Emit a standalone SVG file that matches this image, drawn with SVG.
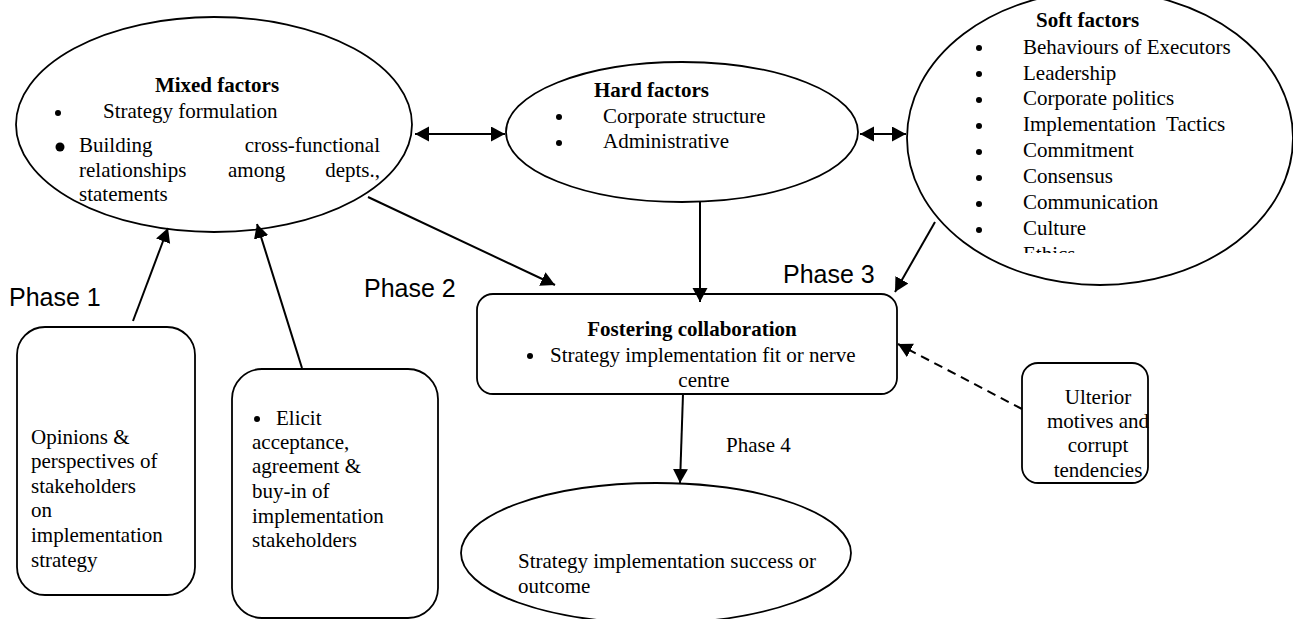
<svg xmlns="http://www.w3.org/2000/svg" width="1293" height="619" viewBox="0 0 1293 619">
<style>
.shape{fill:#fff;stroke:#000;stroke-width:1.8}
.t{font-family:"Liberation Serif","Times New Roman",serif;font-size:21px;fill:#000}
.b{font-weight:bold}
.ph{font-family:"Liberation Sans",Arial,sans-serif;font-size:25px;fill:#000}
.c{stroke:#000;stroke-width:2;fill:none}
.d{stroke-dasharray:9,6}
</style>
<defs>
<marker id="ah" markerUnits="userSpaceOnUse" markerWidth="16" markerHeight="16" refX="14" refY="7.5" orient="auto-start-reverse">
<path d="M0,0 L14,7.5 L0,15 z" fill="#000"/>
</marker>
<clipPath id="softclip"><rect x="900" y="0" width="393" height="253"/></clipPath>
</defs>
<rect width="1293" height="619" fill="#fff"/>

<g id="mixed">
<ellipse class="shape" cx="214" cy="124.5" rx="198" ry="107.5"/>
<text class="t b" x="217" y="92" text-anchor="middle">Mixed factors</text>
<circle cx="58" cy="113" r="3"/>
<text class="t" x="103" y="118">Strategy formulation</text>
<circle cx="60" cy="147" r="4.5"/>
<text class="t" x="79" y="152">Building</text>
<text class="t" x="380" y="152" text-anchor="end">cross-functional</text>
<text class="t" x="79" y="177">relationships</text>
<text class="t" x="228" y="177">among</text>
<text class="t" x="380" y="177" text-anchor="end">depts.,</text>
<text class="t" x="79" y="201">statements</text>
</g>

<g id="hard">
<ellipse class="shape" cx="682" cy="132" rx="176" ry="70"/>
<text class="t b" x="594" y="97">Hard factors</text>
<circle cx="559" cy="117" r="3"/>
<text class="t" x="603" y="123">Corporate structure</text>
<circle cx="559" cy="143" r="3"/>
<text class="t" x="603" y="148">Administrative</text>
</g>

<g id="soft">
<ellipse class="shape" cx="1100" cy="138" rx="193" ry="147"/>
<text class="t b" x="1036" y="27">Soft factors</text>
<g>
<circle cx="979" cy="48" r="3"/><text class="t" x="1023" y="54">Behaviours of Executors</text>
<circle cx="979" cy="74" r="3"/><text class="t" x="1023" y="80">Leadership</text>
<circle cx="979" cy="100" r="3"/><text class="t" x="1023" y="105">Corporate politics</text>
<circle cx="979" cy="126" r="3"/><text class="t" x="1023" y="131" xml:space="preserve">Implementation  Tactics</text>
<circle cx="979" cy="152" r="3"/><text class="t" x="1023" y="157">Commitment</text>
<circle cx="979" cy="178" r="3"/><text class="t" x="1023" y="183">Consensus</text>
<circle cx="979" cy="204" r="3"/><text class="t" x="1023" y="209">Communication</text>
<circle cx="979" cy="230" r="3"/><text class="t" x="1023" y="235">Culture</text>
<text class="t" x="1023" y="261" clip-path="url(#softclip)">Ethics</text>
</g>
</g>

<g id="fostering">
<rect class="shape" x="477" y="294" width="420" height="100" rx="16"/>
<text class="t b" x="692" y="336" text-anchor="middle">Fostering collaboration</text>
<circle cx="530" cy="356" r="3"/>
<text class="t" x="550" y="362">Strategy implementation fit or nerve</text>
<text class="t" x="704" y="387" text-anchor="middle">centre</text>
</g>

<g id="outcome">
<ellipse class="shape" cx="656" cy="553" rx="195" ry="70"/>
<text class="t" x="518" y="568">Strategy implementation success or</text>
<text class="t" x="518" y="593">outcome</text>
</g>

<g id="opinions">
<rect class="shape" x="17" y="327" width="178" height="268" rx="28"/>
<text class="t" x="31" y="444">Opinions &amp;</text>
<text class="t" x="31" y="468">perspectives of</text>
<text class="t" x="31" y="493">stakeholders</text>
<text class="t" x="31" y="517">on</text>
<text class="t" x="31" y="542">implementation</text>
<text class="t" x="31" y="567">strategy</text>
</g>

<g id="elicit">
<rect class="shape" x="232" y="369" width="206" height="249" rx="30"/>
<circle cx="257" cy="419" r="3"/>
<text class="t" x="276" y="425">Elicit</text>
<text class="t" x="252" y="449">acceptance,</text>
<text class="t" x="252" y="473">agreement &amp;</text>
<text class="t" x="252" y="498">buy-in of</text>
<text class="t" x="252" y="523">implementation</text>
<text class="t" x="252" y="547">stakeholders</text>
</g>

<g id="ulterior">
<rect class="shape" x="1022" y="363" width="126" height="120" rx="16"/>
<text class="t" x="1098" y="404" text-anchor="middle">Ulterior</text>
<text class="t" x="1098" y="428" text-anchor="middle">motives and</text>
<text class="t" x="1098" y="452" text-anchor="middle">corrupt</text>
<text class="t" x="1098" y="477" text-anchor="middle">tendencies</text>
</g>

<g id="phase-labels">
<text class="ph" x="9" y="306">Phase 1</text>
<text class="ph" x="364" y="297">Phase 2</text>
<text class="ph" x="783" y="283">Phase 3</text>
<text class="t" x="726" y="452">Phase 4</text>
</g>

<g id="connectors">
<line class="c" x1="415" y1="134" x2="505" y2="134" marker-start="url(#ah)" marker-end="url(#ah)"/>
<line class="c" x1="860" y1="134" x2="906" y2="134" marker-start="url(#ah)" marker-end="url(#ah)"/>
<line class="c" x1="368" y1="197" x2="555" y2="285" marker-end="url(#ah)"/>
<line class="c" x1="700" y1="202" x2="700" y2="302" marker-end="url(#ah)"/>
<line class="c" x1="935" y1="222" x2="895" y2="292" marker-end="url(#ah)"/>
<line class="c" x1="133" y1="321" x2="168" y2="228" marker-end="url(#ah)"/>
<line class="c" x1="302" y1="368" x2="257" y2="224" marker-end="url(#ah)"/>
<line class="c" x1="683" y1="394" x2="680" y2="483" marker-end="url(#ah)"/>
<line class="c d" x1="1022" y1="409" x2="898" y2="344" marker-end="url(#ah)"/>
</g>
</svg>
